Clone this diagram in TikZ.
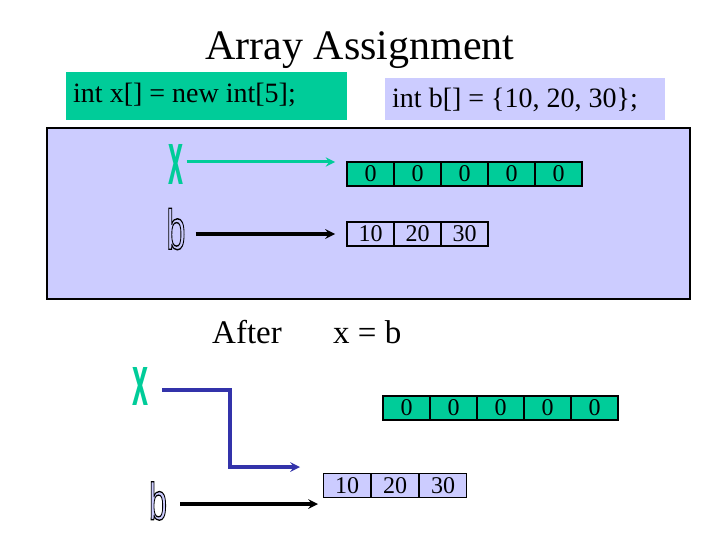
\documentclass[tikz,border=0pt]{standalone}
\usepackage{fontspec}
\usepackage{graphicx}
\setmainfont{Liberation Serif}
\newfontfamily\glyphfont{Liberation Sans}
\usetikzlibrary{positioning}

\definecolor{mint}{RGB}{0,204,153}
\definecolor{lav}{RGB}{204,204,255}
\definecolor{navy}{RGB}{51,51,170}

\newcommand{\bigx}[2]{\resizebox{#1}{#2}{\glyphfont\bfseries x}}
\newcommand{\hollowb}[2]{\resizebox{#1}{#2}{\special{pdf:literal direct 2 Tr 0.8 0.8 1 rg 0 0 0 RG 0.25 w}\glyphfont b\special{pdf:literal direct 0 Tr}}}

\tikzset{
  cell/.style={draw=black, line width=1.6pt, minimum width=47pt, minimum height=24pt,
    inner sep=0pt, font=\fontsize{24}{24}\selectfont},
  hdr/.style={anchor=west, inner sep=0pt, font=\fontsize{28}{28}\selectfont},
  big/.style={font=\fontsize{33}{33}\selectfont, anchor=base west, inner sep=0pt},
}

\begin{document}
\begin{tikzpicture}[x=1pt, y=-1pt, >=stealth]
\useasboundingbox (0,0) rectangle (720,540);

% title and declarations
\node[font=\fontsize{42}{42}\selectfont, anchor=base, inner sep=0pt] (title) at (360,60) {Array Assignment};
\fill[mint] (66,72) rectangle (347,120);
\fill[lav] (385,78) rectangle (665,120);
\node[hdr] (declx) at (73,95) {int x[] = new int[5];};
\node[hdr] (declb) at (392,100) {int b[] = \{10, 20, 30\};};

% before
\draw[fill=lav, line width=1.6pt] (47,128) rectangle (690,299);
\node[mint, inner sep=0pt] (xt) at (176,164) {\bigx{15pt}{40pt}};
\node[inner sep=0pt] (bt) at (176,229) {\hollowb{19pt}{41pt}};
\foreach \i in {1,...,5}
  \node[cell, fill=mint] (xa\i) at ({347+47*(\i-0.5)},174) {0};
\foreach \i/\v in {1/10,2/20,3/30}
  \node[cell, fill=lav] (ba\i) at ({347+47*(\i-0.5)},234) {\v};
\coordinate (xtend) at (335,162);
\coordinate (btend) at (335,234);
\draw[->, mint, line width=3pt] (xt.east |- xtend) ++(3,0) -- (xtend);
\draw[->, black, line width=3.2pt] (bt.east |- btend) ++(10,0) -- (btend);

% after
\node[big] (after) at (212,343) {After};
\node[big] (assign) at (333,343) {x = b};
\node[mint, inner sep=0pt] (xb) at (140,386) {\bigx{16pt}{38pt}};
\node[inner sep=0pt] (bb) at (158,501) {\hollowb{18pt}{38pt}};
\foreach \i in {1,...,5}
  \node[cell, fill=mint] (xc\i) at ({383+47*(\i-0.5)},408) {0};
\foreach \i/\v in {1/10,2/20,3/30}
  \node[cell, fill=lav] (bc\i) at ({323+48*(\i-0.5)},485.5) {\v};
\coordinate (xbend) at (230,467);
\coordinate (xbtip) at (300,467);
\coordinate (bbtip) at (318,504);
\draw[->, navy, line width=3.2pt] (xb.east) ++(14,4) -| (xbend) -- (xbtip);
\draw[->, black, line width=3.2pt] (bb.east |- bbtip) ++(13,0) -- (bbtip);
\end{tikzpicture}
\end{document}
